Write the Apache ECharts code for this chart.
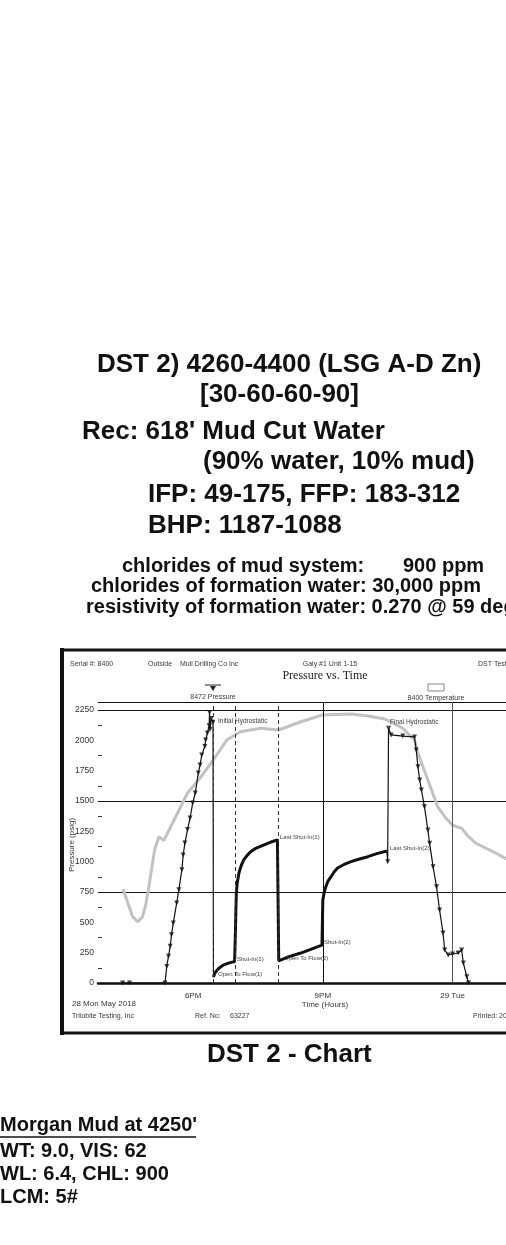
<!DOCTYPE html>
<html>
<head>
<meta charset="utf-8">
<title>DST 2 - Chart</title>
<script src="https://cdn.jsdelivr.net/npm/echarts@6/dist/echarts.min.js"></script>
<style>
  html, body { margin: 0; padding: 0; background: #fff; }
  #dstChart { width: 506px; height: 1245px; }
</style>
</head>
<body>
<div id="dstChart"></div>
<script>
// time is in hours from midnight of 28 May (18 = 6PM, 24 = midnight)
var goingInTime = [16.37, 16.53, 17.35, 17.39, 17.43, 17.47, 17.50, 17.54, 17.62, 17.67, 17.74, 17.77, 17.81, 17.87, 17.93, 17.99, 18.05, 18.12, 18.16, 18.20, 18.27, 18.29, 18.33, 18.37, 18.38, 18.39, 18.42, 18.46];
var goingInPsi  = [0, 0, 0, 137, 220, 302, 398, 494, 659, 769, 934, 1055, 1154, 1265, 1360, 1483, 1566, 1731, 1797, 1879, 1950, 2003, 2060, 2120, 2230, 2090, 2180, 2150];

// flow / shut-in periods (IFP 49-175, ISI 1187, FFP 183-312, FSI 1088)
var testTime = [18.47, 18.50, 18.55, 18.62, 18.70, 18.80, 18.90, 18.96,
  18.98, 18.99, 19.00, 19.02, 19.06, 19.11, 19.17, 19.25, 19.33, 19.45, 19.64, 19.80, 19.95, 19.97,
  19.98, 20.20, 20.49, 20.75, 20.98,
  20.99, 21.00, 21.03, 21.07, 21.12, 21.19, 21.26, 21.34, 21.48, 21.65, 21.85, 22.04, 22.25, 22.48];
var testPsi = [49, 80, 105, 128, 148, 162, 172, 175,
  437, 620, 742, 824, 907, 965, 1014, 1052, 1082, 1110, 1138, 1162, 1179, 1187,
  183, 215, 247, 282, 312,
  494, 684, 745, 794, 840, 876, 915, 948, 975, 1000, 1022, 1041, 1066, 1088];

var pullOutTime = [22.50, 22.52, 22.58, 22.85, 23.12, 23.16, 23.20, 23.24, 23.28, 23.35, 23.43, 23.47, 23.55, 23.63, 23.70, 23.78, 23.82, 23.90, 24.00, 24.13, 24.21, 24.25, 24.33, 24.37];
var pullOutPsi  = [1000, 2100, 2045, 2035, 2028, 1921, 1783, 1673, 1591, 1453, 1261, 1151, 959, 794, 602, 412, 272, 231, 238, 247, 272, 165, 52, 0];

// temperature trace (its own axis is off the page, drawn on the pressure scale)
var tempTime = [16.38, 16.49, 16.60, 16.72, 16.83, 16.91, 16.99, 17.11, 17.21, 17.32, 17.41, 17.64, 17.87, 18.18, 18.47, 18.78, 19.09, 19.56, 19.98, 20.49, 20.99, 21.65, 22.04, 22.43, 22.58, 22.85, 23.12, 23.20, 23.43, 23.66, 23.82, 24.00, 24.21, 24.36, 24.53, 25.00, 25.29, 25.60];
var tempLevel = [775, 659, 547, 505, 547, 657, 822, 1100, 1206, 1175, 1236, 1401, 1566, 1698, 1840, 2003, 2071, 2099, 2085, 2153, 2209, 2217, 2200, 2176, 2150, 2100, 2003, 1896, 1673, 1451, 1371, 1300, 1275, 1210, 1154, 1071, 1014, 980];

var eventTimes = [18.47, 18.97, 19.98];   // open to flow(1), shut-in(1), open to flow(2)
var clockLines = [21, 24];                // 9PM, midnight
var timeLabelHours = [18, 21, 24];
var timeLabelText = ['6PM', '9PM', '29 Tue'];

function pairs(t, v) {
  return t.map(function (x, i) { return [x, v[i]]; });
}

var allPressure = pairs(goingInTime, goingInPsi)
  .concat(pairs(testTime, testPsi))
  .concat(pairs(pullOutTime, pullOutPsi));
var markerPoints = pairs(goingInTime, goingInPsi).concat(pairs(pullOutTime, pullOutPsi));

var SANS = '"Liberation Sans", Arial, sans-serif';

function txt(s, x, y, size, o) {
  o = o || {};
  var e = {
    type: 'text', x: x, y: y, silent: true, z: 20,
    style: {
      text: s,
      font: o.font || ((o.regular ? '' : 'bold ') + size + 'px ' + SANS),
      fill: o.fill || '#111',
      align: o.align || 'left',
      verticalAlign: 'middle'
    }
  };
  if (o.rotation) e.rotation = o.rotation;
  return e;
}

var small = { regular: true, fill: '#3a3a3a' };
function sm(extra) {
  var o = { regular: true, fill: '#3a3a3a' };
  for (var k in extra) o[k] = extra[k];
  return o;
}

var graphics = [
  // page text
  txt('DST 2) 4260-4400 (LSG A-D Zn)', 97, 365, 26),
  txt('[30-60-60-90]', 200, 395, 26),
  txt("Rec: 618' Mud Cut Water", 82, 432, 26),
  txt('(90% water, 10% mud)', 203, 462, 26),
  txt('IFP: 49-175, FFP: 183-312', 148, 495, 26),
  txt('BHP: 1187-1088', 148, 526, 26),
  txt('chlorides of mud system:', 122, 566, 20),
  txt('900 ppm', 403, 566, 20),
  txt('chlorides of formation water: 30,000 ppm', 91, 586, 20),
  txt('resistivity of formation water: 0.270 @ 59 degrees', 86, 607, 20),
  txt('DST 2 - Chart', 207, 1055, 26),
  txt("Morgan Mud at 4250'", 0, 1125, 20),
  txt('WT: 9.0, VIS: 62', 0, 1151, 20),
  txt('WL: 6.4, CHL: 900', 0, 1174, 20),
  txt('LCM: 5#', 0, 1197, 20),
  { type: 'line', silent: true, shape: { x1: 0, y1: 1137, x2: 196, y2: 1137 }, style: { stroke: '#111', lineWidth: 1.5 } },

  // chart frame
  { type: 'rect', silent: true, shape: { x: 62, y: 650, width: 470, height: 383 }, style: { fill: 'none', stroke: '#111', lineWidth: 3 } },
  { type: 'line', silent: true, shape: { x1: 62, y1: 648, x2: 62, y2: 1035 }, style: { stroke: '#111', lineWidth: 4 } },

  // chart header
  txt('Serial #: 8400', 70, 664, 7, small),
  txt('Outside', 148, 664, 7, small),
  txt('Mull Drilling Co Inc', 180, 664, 7, small),
  txt('Galy #1 Unit 1-15', 330, 664, 7, sm({ align: 'center' })),
  txt('DST Test Number: 2', 478, 664, 7, small),
  txt('Pressure vs. Time', 325, 676, 12, sm({ font: '12px "Liberation Serif", "Times New Roman", serif', fill: '#222', align: 'center' })),

  // legend marks
  { type: 'line', silent: true, shape: { x1: 205, y1: 685, x2: 221, y2: 685 }, style: { stroke: '#222', lineWidth: 1 } },
  { type: 'polygon', silent: true, shape: { points: [[210, 686], [216, 686], [213, 691]] }, style: { fill: '#222' } },
  txt('8472 Pressure', 213, 697, 7, sm({ align: 'center' })),
  { type: 'rect', silent: true, shape: { x: 428, y: 684, width: 16, height: 7 }, style: { fill: 'none', stroke: '#888', lineWidth: 1 } },
  txt('8400 Temperature', 436, 698, 7, sm({ align: 'center' })),

  // event notes
  txt('Initial Hydrostatic', 218, 721, 6.5, small),
  txt('Final Hydrostatic', 390, 722, 6.5, small),
  txt('Last Shut-In(1)', 280, 837, 6, sm({ fill: '#4a3838' })),
  txt('Last Shut-In(2)', 390, 848, 6, sm({ fill: '#4a3838' })),
  txt('Shut-In(1)', 237, 959, 6, sm({ fill: '#4a3838' })),
  txt('Open To Flow(1)', 218, 974, 6, sm({ fill: '#4a3838' })),
  txt('Open To Flow(2)', 284, 958, 6, sm({ fill: '#4a3838' })),
  txt('Shut-In(2)', 324, 942, 6, sm({ fill: '#4a3838' })),

  // chart footer
  txt('Pressure (psig)', 72, 845, 8, sm({ align: 'center', rotation: Math.PI / 2 })),
  txt('28 Mon May 2018', 72, 1004, 8, small),
  txt('Trilobite Testing, Inc', 72, 1016, 7, small),
  txt('Ref. No:', 195, 1016, 7, small),
  txt('63227', 230, 1016, 7, small),
  txt('Time (Hours)', 325, 1005, 8, sm({ align: 'center' })),
  txt('Printed: 2018/05/29', 473, 1016, 7, small)
];

var vLines = clockLines.map(function (h, i) {
  return { xAxis: h, lineStyle: { color: i === 0 ? '#111' : '#555', type: 'solid', width: 1 } };
}).concat(eventTimes.map(function (h) {
  return { xAxis: h, lineStyle: { color: '#333', type: [4, 3], width: 1 } };
}));

var chart = echarts.init(document.getElementById('dstChart'));
chart.setOption({
  animation: false,
  backgroundColor: '#fff',
  // the plot runs on past the right edge of the page, like the scanned chart
  grid: { left: 98, right: -33, top: 702, bottom: 262, outerBoundsMode: 'none', containLabel: false },
  xAxis: [{
    type: 'value', min: 15.8, max: 26, interval: 0.2,
    axisLine: { lineStyle: { color: '#111', width: 2.5 } },
    axisTick: { show: false },
    splitLine: { show: false },
    axisLabel: {
      margin: 9, fontSize: 8, color: '#333', fontFamily: SANS,
      formatter: function (v) {
        var i = timeLabelHours.indexOf(Math.round(v * 10) / 10);
        return i >= 0 ? timeLabelText[i] : '';
      }
    }
  }, {
    type: 'value', position: 'top', min: 15.8, max: 26,
    axisLine: { show: true, lineStyle: { color: '#111', width: 1 } },
    axisTick: { show: false }, axisLabel: { show: false }, splitLine: { show: false }
  }],
  yAxis: [{
    type: 'value', min: 0, max: 2316, interval: 250,
    axisLine: { show: false },
    axisTick: { show: false, inside: true },
    minorTick: { show: true, splitNumber: 2, length: 4, lineStyle: { color: '#333' } },
    splitLine: { show: false },
    axisLabel: {
      margin: 4, fontSize: 8.5, color: '#333', fontFamily: SANS, showMaxLabel: false,
      formatter: function (v) { return String(v); }
    }
  }, {
    type: 'value', position: 'left', min: 0, max: 2316, interval: 750,
    axisLine: { show: false }, axisTick: { show: false }, axisLabel: { show: false },
    splitLine: { show: true, lineStyle: { color: '#111', width: 1 } }
  }],
  graphic: { elements: graphics },
  series: [{
    name: '8400 Temperature', type: 'line', data: pairs(tempTime, tempLevel),
    symbol: 'none', z: 2,
    lineStyle: { color: '#c2c2c2', width: 3 }
  }, {
    name: '8472 Pressure', type: 'line', data: allPressure,
    symbol: 'none', z: 3,
    lineStyle: { color: '#111', width: 1.2 },
    markLine: { silent: true, symbol: ['none', 'none'], label: { show: false }, data: vLines }
  }, {
    name: 'Pressure test periods', type: 'line', data: pairs(testTime, testPsi),
    symbol: 'none', z: 4,
    lineStyle: { color: '#111', width: 3 }
  }, {
    name: 'Pressure readings', type: 'scatter', data: markerPoints,
    symbol: 'triangle', symbolRotate: 180, symbolSize: 5, z: 5,
    itemStyle: { color: '#111' }
  }]
});
</script>
</body>
</html>
